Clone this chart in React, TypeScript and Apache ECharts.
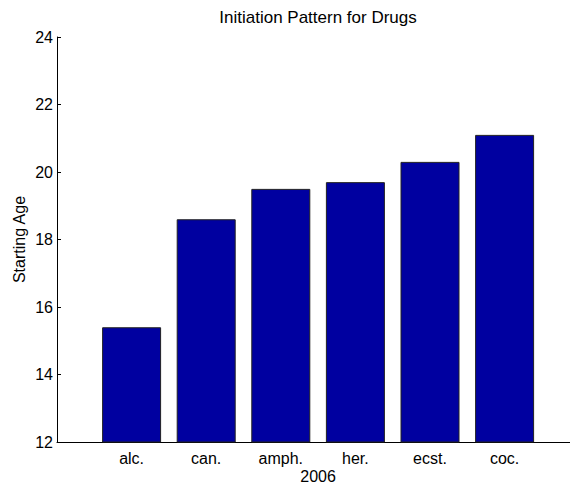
import React, { useEffect, useRef } from "react";
import * as echarts from "echarts";

const categories = ["alc.", "can.", "amph.", "her.", "ecst.", "coc."];
const startingAge = [15.4, 18.6, 19.5, 19.7, 20.3, 21.1];
const yTicks = [12, 14, 16, 18, 20, 22, 24];
const xLabel = "2006";
const yLabel = "Starting Age";
const titleText = "Initiation Pattern for Drugs";

const FONT = "'Liberation Sans', Arial, Helvetica, sans-serif";

export default function App() {
  const ref = useRef<HTMLDivElement>(null);
  useEffect(() => {
    if (!ref.current) return;
    const chart = echarts.init(ref.current, undefined, { renderer: "svg" });
    chart.setOption({
      animation: false,
      backgroundColor: "#ffffff",
      textStyle: { fontFamily: FONT },
      title: {
        text: titleText,
        left: 318,
        textAlign: "center",
        top: 9,
        padding: 0,
        textStyle: { fontFamily: FONT, fontSize: 17, fontWeight: "normal", color: "#000", lineHeight: 17 },
      },
      grid: {
        left: 57,
        right: 0.8,
        top: 37,
        bottom: 41,
        containLabel: false,
        outerBoundsMode: "none",
      },
      xAxis: {
        type: "value",
        min: 0,
        max: categories.length + 1,
        interval: 1,
        name: xLabel,
        nameLocation: "middle",
        nameGap: 26,
        nameMoveOverlap: false,
        nameTextStyle: { fontFamily: FONT, fontSize: 16, color: "#000", lineHeight: 16 },
        axisLine: { show: true, lineStyle: { color: "#000", width: 1 } },
        axisTick: { show: false },
        splitLine: { show: false },
        axisLabel: {
          margin: 8,
          fontFamily: FONT,
          fontSize: 16,
          lineHeight: 16,
          color: "#000",
          formatter: (v: number) => categories[v - 1] ?? "",
        },
      },
      yAxis: {
        type: "value",
        min: yTicks[0],
        max: yTicks[yTicks.length - 1],
        interval: 2,
        name: yLabel,
        nameLocation: "middle",
        nameGap: 30,
        nameRotate: 90,
        nameMoveOverlap: false,
        nameTextStyle: { fontFamily: FONT, fontSize: 16, color: "#000", lineHeight: 16 },
        axisLine: { show: true, lineStyle: { color: "#000", width: 1 } },
        axisTick: { show: true, inside: true, length: 4, lineStyle: { color: "#000" } },
        splitLine: { show: false },
        axisLabel: { margin: 4, fontFamily: FONT, fontSize: 16, color: "#000" },
      },
      series: [
        {
          type: "bar",
          data: categories.map((c, i) => [i + 1, startingAge[i]]),
          barWidth: 59,
          itemStyle: { color: "#0000a0", borderColor: "#222", borderWidth: 1 },
          clip: true,
        },
      ],
    });
    return () => chart.dispose();
  }, []);
  return (
    <div style={{ position: "fixed", left: 0, top: 0, width: 570, height: 483, overflow: "hidden", background: "#fff" }}>
      <div ref={ref} style={{ width: 580, height: 483 }} />
    </div>
  );
}
